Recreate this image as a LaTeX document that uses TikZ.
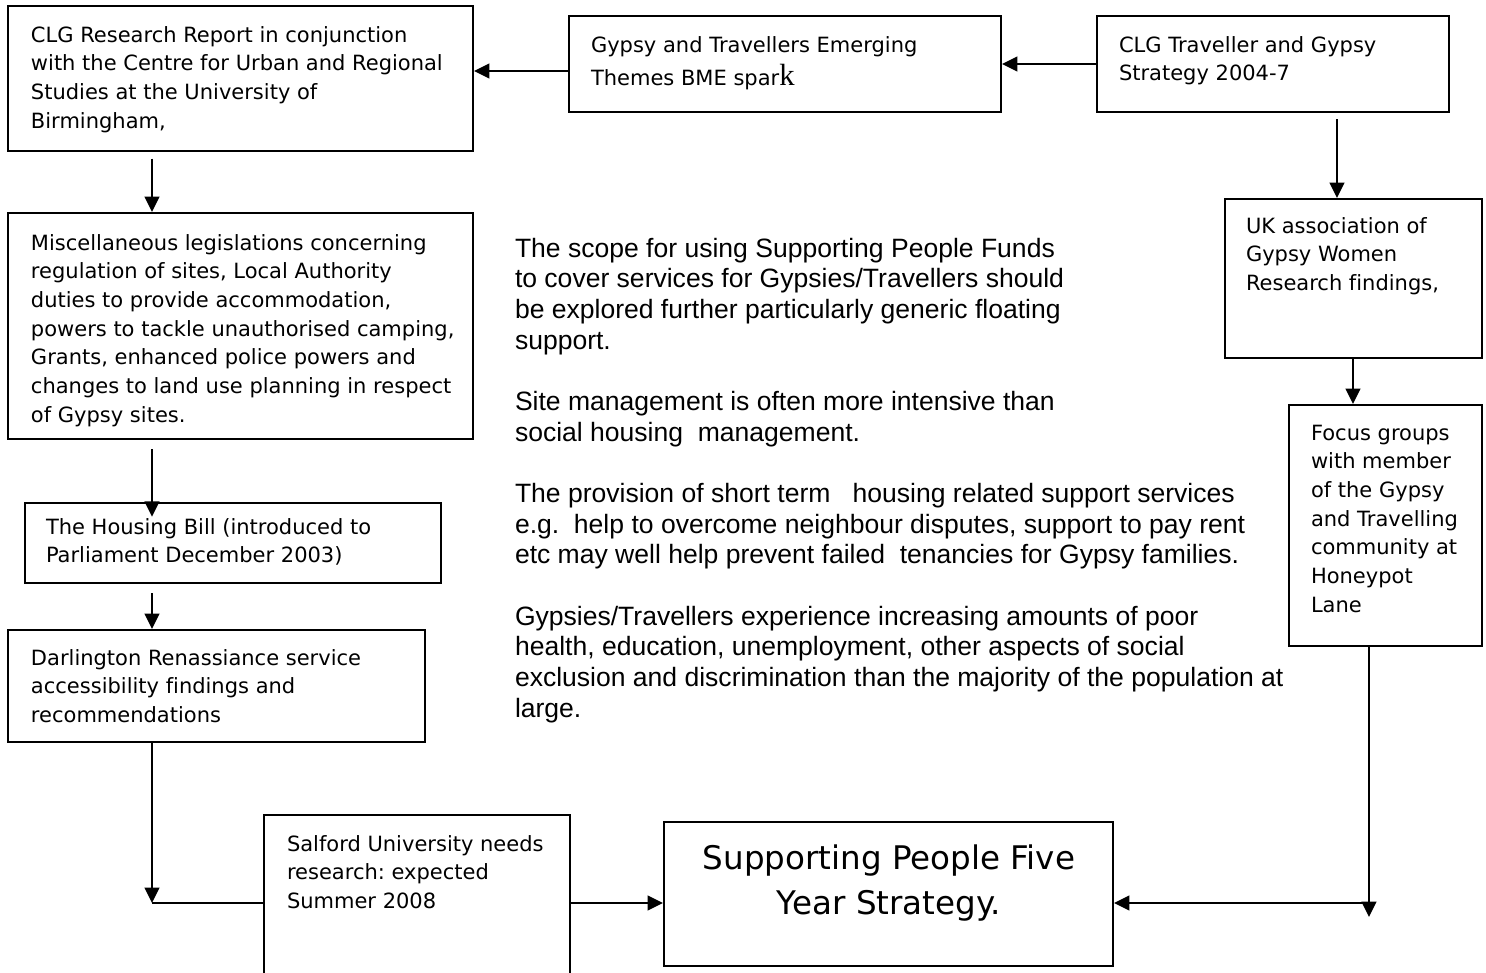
\documentclass[tikz,border=0pt]{standalone}
\usepackage{fontspec}
\usetikzlibrary{arrows.meta,fit}
\newfontfamily\boxfam[Ligatures=NoCommon]{DejaVu Sans}
\newfontfamily\bodyfam{Liberation Sans}
\newfontfamily\kfam{Liberation Serif}
\frenchspacing
% left- and centre-aligned stacks whose baseline is that of the first line
\newcommand\ml[1]{\begin{tabular}[t]{@{}l@{}}#1\end{tabular}}
\newcommand\mc[1]{\begin{tabular}[t]{@{}c@{}}#1\end{tabular}}
\begin{document}
\begin{tikzpicture}[x=0.75pt, y=-0.75pt, line width=1.5pt,
  box/.style={draw, line width=1.5pt, inner sep=0pt, fit={#1}},
  txt/.style={anchor=base west, inner sep=0pt, font=\fontsize{15.75pt}{21.5pt}\boxfam},
  arr/.style={-{Triangle[length=11.5pt,width=11pt]}},
  plain/.style={-}]
\useasboundingbox (0,0) rectangle (1486,972);

% boxes
\node[box={(8,6) (473,151)}] (A) {};
\node[box={(569,16) (1001,112)}] (B) {};
\node[box={(1097,16) (1449,112)}] (C) {};
\node[box={(8,213) (473,439)}] (G) {};
\node[box={(25,503) (441,583)}] (H) {};
\node[box={(8,630) (425,742)}] (I) {};
\node[box={(264,815) (570,990)}] (J) {};
\node[box={(664,822) (1113,966)}] (F) {};
\node[box={(1225,199) (1482,358)}] (D) {};
\node[box={(1289,405) (1482,646)}] (E) {};

% box texts
\node[txt] (tA) at (30,42) {\ml{CLG Research Report in conjunction\\with the Centre for Urban and Regional\\Studies at the University of\\Birmingham,}};
\node[txt] (tB) at (590,52) {\ml{Gypsy and Travellers Emerging\\[3pt]Themes BME spar{\kfam\fontsize{23pt}{21.5pt}\selectfont k}}};
\node[txt] (tC) at (1118,52) {\ml{CLG Traveller and Gypsy\\Strategy 2004-7}};
\node[txt] (tG) at (30,250) {\ml{Miscellaneous legislations concerning\\regulation of sites, Local Authority\\duties to provide accommodation,\\powers to tackle unauthorised camping,\\Grants, enhanced police powers and\\changes to land use planning in respect\\of Gypsy sites.}};
\node[txt] (tH) at (45,534) {\ml{The Housing Bill (introduced to\\Parliament December 2003)}};
\node[txt] (tI) at (30,665) {\ml{Darlington Renassiance service\\accessibility findings and\\recommendations}};
\node[txt] (tJ) at (286,851) {\ml{Salford University needs\\research: expected\\Summer 2008}};
\node[txt] (tD) at (1245,233) {\ml{UK association of\\Gypsy Women\\Research findings,}};
\node[txt] (tE) at (1310,440) {\ml{Focus groups\\with member\\of the Gypsy\\and Travelling\\community at\\Honeypot\\Lane}};
\node[anchor=base, inner sep=0pt, font=\fontsize{24.4pt}{33.75pt}\boxfam] (tF) at (889,869) {\mc{Supporting People Five\\Year Strategy.}};

% free-standing notes
\node[anchor=base west, inner sep=0pt, font=\fontsize{19.9pt}{23pt}\bodyfam] (notes) at (514,257) {\ml{%
The scope for using Supporting People Funds\\
to cover services for Gypsies/Travellers should\\
be explored further particularly generic floating\\
support.\\ \\
Site management is often more intensive than\\
social housing\ \ management.\\ \\
The provision of short term\ \ \ housing related support services\\
e.g.\ \ help to overcome neighbour disputes, support to pay rent\\
etc may well help prevent failed\ \ tenancies for Gypsy families.\\ \\
Gypsies/Travellers experience increasing amounts of poor\\
health, education, unemployment, other aspects of social\\
exclusion and discrimination than the majority of the population at\\
large.}};

% reference coordinates for connector positions
\coordinate (h64) at (0,64);
\coordinate (h71) at (0,71);
\coordinate (h903) at (0,903);
\coordinate (v152) at (152,0);
\coordinate (v1337) at (1337,0);
\coordinate (v1353) at (1353,0);
\coordinate (k1) at (152,903);
\coordinate (k2) at (1369,917);
\coordinate (k3) at (1369,903);

% connectors
\draw[arr] (C.west |- h64) -- (B.east |- h64);
\draw[arr] (B.west |- h71) -- (A.east |- h71);
\draw[arr, shorten <=5pt] (A.south -| v152) -- (G.north -| v152);
\draw[arr, shorten <=6.75pt, shorten >=-11pt] (G.south -| v152) -- (H.north -| v152);
\draw[arr, shorten <=6.75pt] (H.south -| v152) -- (I.north -| v152);
\draw[plain] (k1) -- (J.west |- k1);
\draw[arr] (I.south -| v152) -- (k1);
\draw[arr] (J.east |- h903) -- (F.west |- h903);
\draw[arr, shorten <=4.5pt] (C.south -| v1337) -- (D.north -| v1337);
\draw[arr] (D.south -| v1353) -- (E.north -| v1353);
\draw[arr] (E.south -| k2) -- (k2);
\draw[arr] (k3) -- (F.east |- k3);
\end{tikzpicture}
\end{document}
